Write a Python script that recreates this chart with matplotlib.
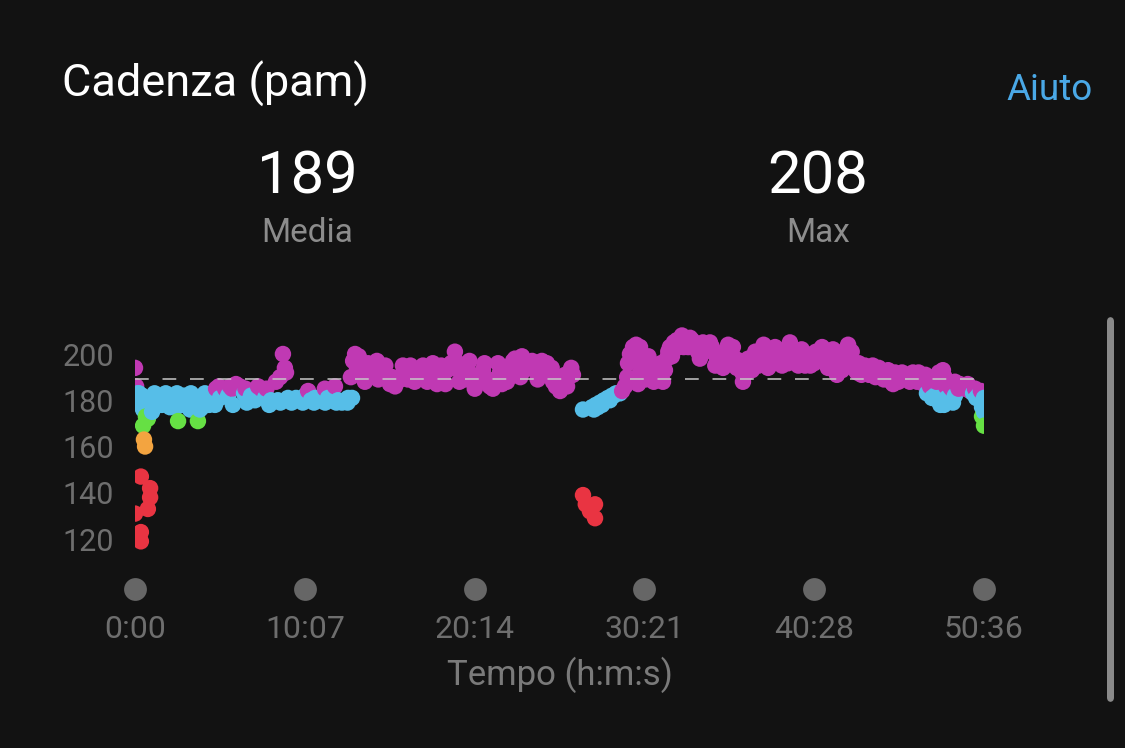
import numpy as np
import matplotlib
matplotlib.use("Agg")
import matplotlib.pyplot as plt
from matplotlib.patches import FancyBboxPatch

# ---------------- data ----------------
title = "Cadenza (pam)"
help_label = "Aiuto"
avg_cadence = 189
max_cadence = 208
stat_labels = ["Media", "Max"]
x_label = "Tempo (h:m:s)"

total_seconds = 3036
tick_labels = ["0:00", "10:07", "20:14", "30:21", "40:28", "50:36"]
y_ticks = [120, 140, 160, 180, 200]

# warm-up (seconds, steps per minute)
start_t = [0, 4, 7, 14, 21, 29, 29, 39, 46, 32, 36, 21, 54, 54, 46, 0, 21, 21, 10, 18, 25]
start_c = [194, 186, 181, 183, 178, 176, 169, 173, 172, 163, 160, 147, 142, 138, 133, 131, 123, 119, 183, 179, 182]

block1_t = [54, 64, 75, 89, 104, 118, 132, 147, 154, 161, 175, 190, 204, 218, 225, 232, 243, 257, 272, 286,
            290, 304, 322, 333, 347, 361, 375, 390, 415, 429, 451, 465, 486, 504, 511, 519, 529, 536, 540, 547,
            561, 576, 590, 608, 619, 629, 644, 662, 679, 690, 704, 715, 726, 740, 751, 762, 776, 772, 780, 787]
block1_c = [180, 178, 182, 181, 179, 182, 180, 177, 171, 181, 182, 179, 181, 177, 171, 176, 181, 182, 180, 178,
            185, 181, 185, 182, 185, 187, 186, 183, 182, 180, 185, 181, 180, 188, 180, 190, 200, 194, 192, 181,
            180, 181, 180, 182, 184, 180, 181, 180, 185, 181, 180, 186, 180, 179, 180, 181, 181, 190, 197, 200]
block1_extra_t = [61, 70, 96, 110, 125, 150, 168, 197, 200, 240, 250, 265, 280, 300, 340, 350, 395, 400, 440,
                  470, 480, 520, 560, 600, 640, 680, 720, 760]
block1_extra_c = [175, 183, 178, 183, 177, 183, 178, 176, 183, 177, 183, 178, 183, 186, 186, 178, 185, 179, 186,
                  185, 178, 179, 179, 179, 179, 179, 179, 179]

block2_t = [794, 812, 833, 848, 865, 876, 887, 901, 912, 930, 944, 958, 966, 976, 991, 1008, 1023, 1037, 1055,
            1073, 1087, 1101, 1116, 1130, 1144, 1155, 1169, 1187, 1205, 1223, 1234, 1244, 1259, 1269, 1287, 1305,
            1320, 1330, 1345, 1359, 1370, 1384, 1398, 1413, 1430, 1448, 1463, 1473, 1484, 1495, 1505, 1520, 1527,
            1538, 1552, 1566]
block2_c = [194, 192, 196, 193, 197, 194, 192, 190, 187, 186, 190, 195, 192, 189, 191, 192, 190, 194, 191,
            192, 189, 191, 193, 196, 201, 196, 192, 194, 190, 187, 191, 193, 189, 186, 189, 192,
            190, 188, 194, 198, 196, 199, 196, 194, 193, 195, 193, 196, 191, 188, 186, 184, 188,
            191, 190, 191]
block2_extra_t = [800, 822, 855, 870, 895, 920, 950, 985, 1000, 1030, 1045, 1065, 1080, 1095, 1110, 1140, 1160,
                  1180, 1196, 1215, 1250, 1280, 1298, 1312, 1338, 1352, 1378, 1392, 1420, 1440, 1455, 1490,
                  1512, 1545, 1560]
block2_extra_c = [199, 188, 196, 189, 195, 190, 189, 195, 188, 195, 188, 196, 187, 195, 187, 194, 188,
                  189, 197, 185, 196, 185, 196, 187, 190, 197, 190, 193, 197, 189, 197, 194,
                  190, 186, 194]

restart_t = [1602, 1612, 1627, 1645, 1645, 1602, 1634, 1648, 1663, 1677, 1691, 1706, 1720, 1734,
             1641, 1655, 1670, 1684, 1698, 1712]
restart_c = [139, 135, 132, 135, 129, 176, 177, 178, 179, 180, 181, 182, 183, 183,
             176, 177, 178, 180, 180, 182]

block3_t = [1742, 1752, 1763, 1770, 1781, 1792, 1799, 1806, 1806, 1817, 1831, 1842, 1849, 1860, 1874,
            1888, 1902, 1913, 1927, 1938, 1956, 1970, 1985, 1999, 2013, 2031, 2045, 2056, 2070, 2081,
            2092, 2103, 2121, 2131, 2146, 2160, 2171, 2174, 2188, 2199, 2213, 2224, 2235, 2242, 2253,
            2264, 2278, 2289, 2303, 2314, 2328, 2342, 2353, 2367, 2378, 2389, 2396, 2410, 2421, 2435,
            2450, 2464, 2478, 2489, 2496, 2510, 2521, 2535, 2550, 2557, 2571, 2582, 2593, 2603, 2618,
            2632, 2643, 2653, 2668, 2678, 2686, 2700, 2711, 2725, 2736, 2750, 2764, 2782, 2797, 2807,
            2821, 2832, 2843, 2857, 2875, 2889, 2900, 2914, 2925, 2939, 2950, 2968, 2986, 3004]
block3_c = [184, 186, 196, 200, 203, 204, 187, 203, 192, 198, 194, 196, 191, 192, 190,
            188, 198, 203, 205, 206, 208, 206, 207, 203, 201, 205, 204, 205, 201, 198,
            197, 194, 204, 201, 198, 195, 192, 188, 194, 195, 197, 198, 201, 201, 198,
            194, 199, 203, 199, 195, 200, 205, 201, 197, 200, 197, 195, 197, 199, 201,
            200, 197, 194, 198, 202, 191, 196, 199, 204, 198, 195, 192, 194, 194, 193,
            194, 192, 193, 190, 189, 192, 190, 187, 189, 191, 190, 189, 192, 188, 190,
            187, 190, 186, 190, 192, 193, 186, 186, 186, 187, 187, 185, 184, 185]
block3_extra_t = [1760, 1775, 1788, 1812, 1825, 1836, 1855, 1868, 1880, 1895, 1907, 1920, 1945, 1962, 1978,
                  1992, 2006, 2020, 2038, 2063, 2075, 2098, 2110, 2126, 2138, 2152, 2165, 2180, 2193, 2206,
                  2218, 2230, 2248, 2258, 2270, 2284, 2296, 2310, 2320, 2335, 2348, 2360, 2372, 2384, 2402,
                  2415, 2428, 2442, 2457, 2470, 2484, 2502, 2515, 2528, 2542, 2563, 2577, 2588, 2598, 2610,
                  2625, 2638, 2648, 2660, 2673, 2693, 2705, 2718, 2730, 2743, 2757, 2771, 2789, 2802, 2814,
                  2827, 2838, 2850, 2866, 2882, 2895, 2907, 2920, 2932, 2945, 2960, 2978, 2995]
block3_extra_c = [190, 197, 200, 195, 189, 199, 188, 193, 196, 193, 201, 199, 203, 203, 203,
                  206, 204, 198, 201, 203, 195, 200, 197, 197, 203, 194, 197, 191, 198, 193,
                  201, 195, 204, 196, 197, 196, 202, 198, 198, 196, 203, 199, 195, 202, 200,
                  195, 196, 197, 203, 200, 196, 198, 195, 193, 202, 201, 193, 196, 191, 195,
                  191, 195, 190, 194, 192, 193, 188, 192, 188, 192, 191, 188, 190, 192, 189,
                  191, 188, 188, 188, 189, 190, 188, 185, 188, 185, 186, 187, 185]

cool_t = [2832, 2850, 2871, 2893, 2914, 2932, 2997, 3015, 3022, 3029, 3036, 3029, 3036,
          2860, 2880, 2903, 2925, 3008, 3025, 3036]
cool_c = [183, 181, 180, 178, 180, 182, 183, 182, 180, 177, 175, 173, 169,
          182, 178, 181, 179, 181, 184, 181]

# cadence zones (lower bounds) and colours
zone_bounds = [184, 174, 164, 153, 0]
zone_colors = ["#C039B3", "#56BEE8", "#66E044", "#F3A440", "#E93442"]

# ---------------- style ----------------
BG = "#121212"
plt.rcParams["font.family"] = ["Roboto", "DejaVu Sans"]

W, H = 1125, 748
fig = plt.figure(figsize=(W / 100, H / 100), dpi=100, facecolor=BG)

t = np.array(start_t + block1_t + block1_extra_t + block2_t + block2_extra_t + restart_t
             + block3_t + block3_extra_t + cool_t, dtype=float)
c = np.array(start_c + block1_c + block1_extra_c + block2_c + block2_extra_c + restart_c
             + block3_c + block3_extra_c + cool_c, dtype=float)
order = np.argsort(t, kind="stable")
t, c = t[order], c[order]


def zone_color(v):
    for b, col in zip(zone_bounds, zone_colors):
        if v >= b:
            return col
    return zone_colors[-1]


cols = [zone_color(v) for v in c]

ax_left, ax_right = 135 / W, 984 / W
ax_top_px, ax_bot_px = 326.25, 552.9
ax = fig.add_axes([ax_left, 1 - ax_bot_px / H, ax_right - ax_left, (ax_bot_px - ax_top_px) / H])
ax.set_facecolor(BG)
ax.set_xlim(0, total_seconds)
ax.set_ylim(114, 212)

ax.scatter(t, c, s=140, c=cols, linewidths=0, zorder=2)
ax.axhline(avg_cadence, xmin=0, xmax=0.993, color="#C8C8C8", lw=1.1,
           dashes=(9, 9), zorder=3)

for s in ax.spines.values():
    s.set_visible(False)

ax.set_yticks(y_ticks)
ax.set_yticklabels([str(v) for v in y_ticks])
ticks_x = np.linspace(0, total_seconds, len(tick_labels))
ax.set_xticks(ticks_x)
ax.set_xticklabels(tick_labels)
ax.tick_params(axis="y", length=0, pad=15, labelsize=22, labelcolor="#6E6E6E")
ax.tick_params(axis="x", length=0, pad=45, labelsize=23, labelcolor="#6E6E6E")

# grey dots below the axis at tick positions
ax.scatter(ticks_x, [-0.16] * len(ticks_x), s=270, color="#666666",
           transform=ax.get_xaxis_transform(), clip_on=False, linewidths=0, zorder=2)

ax.set_xlabel(x_label, fontsize=25, color="#7A7A7A", labelpad=9)

# header texts
fig.text(62 / W, 1 - 97 / H, title, color="white", fontsize=32.5, va="baseline", ha="left")
fig.text(1093 / W, 1 - 100 / H, help_label, color="#4AA8E6", fontsize=26.5, va="baseline", ha="right")
for xc, val, lab in [(307, avg_cadence, stat_labels[0]), (818, max_cadence, stat_labels[1])]:
    fig.text(xc / W, 1 - 193 / H, str(val), color="white", fontsize=43, va="baseline", ha="center")
    fig.text(xc / W, 1 - 242 / H, lab, color="#8C8C8C", fontsize=24, va="baseline", ha="center")

# scrollbar
sb = FancyBboxPatch((1107 / W, 1 - 702 / H), 7 / W, 385 / H,
                    boxstyle="round,pad=0,rounding_size=0.004",
                    transform=fig.transFigure, facecolor="#8A8A8A", edgecolor="none",
                    mutation_aspect=W / H)
fig.patches.append(sb)

fig.savefig("out.png", dpi=100, facecolor=BG)
